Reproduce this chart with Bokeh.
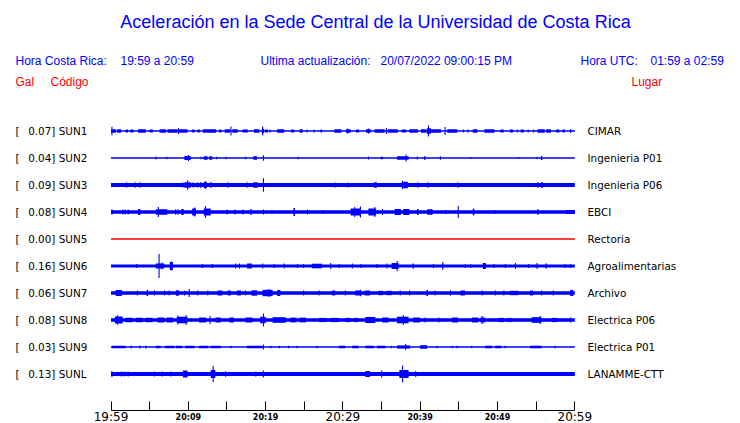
from bokeh.plotting import figure
from bokeh.models import Range1d, FixedTicker, LinearAxis, ColumnDataSource
from bokeh.core.properties import value
from bokeh.embed import file_html
from bokeh.resources import INLINE

# ---------------- data ----------------
title_text = "Aceleración en la Sede Central de la Universidad de Costa Rica"
hora_cr = "19:59 a 20:59"
ultima = "20/07/2022 09:00:15 PM"
hora_utc = "01:59 a 02:59"

codes = ["SUN1", "SUN2", "SUN3", "SUN4", "SUN5", "SUN6", "SUN7", "SUN8", "SUN9", "SUNL"]
gal = [0.07, 0.04, 0.09, 0.08, 0.00, 0.16, 0.06, 0.08, 0.03, 0.13]
places = ["CIMAR", "Ingenieria P01", "Ingenieria P06", "EBCI", "Rectoria",
          "Agroalimentarias", "Archivo", "Electrica P06", "Electrica P01", "LANAMME-CTT"]
trace_colors = ["#0000ff", "#0000ff", "#0000ff", "#0000ff", "#ff0000",
                "#0000ff", "#0000ff", "#0000ff", "#0000ff", "#0000ff"]

# background trace half-amplitude (arbitrary counts) per station
base_amp = [0.6, 0.5, 1.9, 1.7, 0.5, 1.6, 1.8, 1.8, 0.6, 1.9]

# bursts: (start minute, end minute, half-amplitude counts), minutes after 19:59
sun1 = [(0.05, 0.15, 4.3), (0.0, 0.65, 1.7), (0.8, 1.3, 1.7), (1.9, 2.2, 1.5), (2.5, 2.9, 1.5),
        (3.5, 4.5, 1.7), (5.0, 5.4, 1.5), (6.3, 7.1, 1.7), (7.3, 8.6, 1.7), (8.65, 8.75, 3.0),
        (8.8, 9.9, 1.7), (10.5, 10.8, 1.5), (11.2, 11.5, 1.5), (11.9, 13.6, 1.7), (14.0, 14.3, 1.5),
        (14.7, 15.4, 1.7), (15.45, 15.55, 4.5), (15.7, 16.4, 1.7), (17.0, 17.7, 1.5), (18.5, 19.2, 1.7),
        (19.55, 19.65, 4.5), (19.5, 19.8, 2.3), (19.9, 20.3, 1.5), (20.5, 20.6, 1.5), (21.5, 22.4, 1.7),
        (23.3, 23.7, 1.5), (24.4, 24.8, 1.7), (25.3, 25.4, 1.5), (26.2, 26.3, 1.5), (27.1, 27.3, 1.5),
        (28.9, 29.8, 1.7), (30.4, 31.0, 1.7), (30.55, 30.65, 2.5), (31.7, 32.1, 1.5), (33.0, 33.6, 1.7),
        (33.25, 33.35, 2.5), (34.1, 35.4, 1.7), (35.55, 35.65, 3.0), (35.8, 37.1, 1.7), (37.6, 38.2, 1.5),
        (38.6, 39.7, 1.7), (40.1, 40.8, 1.7), (40.85, 41.4, 2.8), (41.0, 41.1, 5.5), (41.4, 42.7, 1.7),
        (43.15, 43.25, 4.0), (43.5, 44.8, 1.7), (45.5, 45.6, 1.5), (46.1, 46.2, 1.5), (46.8, 47.4, 1.7),
        (48.3, 49.6, 1.7), (50.4, 50.8, 1.5), (51.6, 52.0, 1.5), (52.5, 52.6, 1.5), (53.0, 53.4, 1.5),
        (53.9, 54.0, 1.5), (54.6, 54.7, 1.5), (55.2, 56.1, 1.7), (56.3, 56.9, 1.7), (57.6, 58.0, 1.5),
        (58.4, 58.7, 1.5), (59.4, 59.5, 2.0)]
sun2 = [(5.75, 5.85, 1.5), (7.15, 7.25, 1.3), (9.5, 10.3, 2.0), (9.95, 10.05, 3.0), (11.55, 11.65, 1.3),
        (12.0, 12.5, 1.8), (12.7, 13.1, 1.8), (13.6, 13.7, 1.3), (14.8, 14.9, 1.3), (17.35, 17.45, 1.3),
        (18.4, 18.9, 1.8), (19.65, 19.75, 2.8), (24.15, 24.25, 1.2), (33.25, 33.35, 1.5), (34.9, 35.2, 1.3),
        (37.0, 38.5, 1.7), (38.1, 38.2, 3.5), (39.55, 39.65, 1.5), (40.5, 40.7, 1.7), (42.55, 42.65, 1.7),
        (46.45, 46.55, 1.0), (52.65, 52.75, 1.0), (55.05, 55.15, 1.2), (55.6, 55.8, 2.0)]
sun3 = [(1.95, 2.05, 2.7), (3.05, 3.15, 2.7), (3.65, 3.75, 2.7), (9.2, 9.3, 2.5), (9.5, 10.3, 2.7),
        (9.85, 9.95, 4.7), (10.55, 10.65, 2.7), (11.15, 11.25, 2.7), (11.55, 11.65, 3.0), (12.0, 12.4, 3.0),
        (12.15, 12.25, 4.0), (12.85, 12.95, 3.0), (15.05, 15.15, 2.7), (17.55, 17.65, 2.7), (18.4, 19.0, 2.8),
        (19.65, 19.75, 6.7), (28.95, 29.05, 2.5), (30.55, 30.65, 2.5), (34.0, 34.4, 2.7), (37.6, 37.9, 3.0),
        (37.65, 37.75, 4.2), (37.9, 38.4, 3.2), (39.65, 39.75, 2.7), (40.95, 41.05, 2.7),
        (44.85, 44.95, 2.7), (55.15, 55.25, 2.7), (55.6, 55.9, 2.7)]
sun4 = [(0.05, 0.15, 2.7), (1.45, 1.55, 2.5), (1.75, 1.85, 2.5), (2.15, 2.25, 2.5), (3.5, 3.8, 3.0),
        (5.8, 7.3, 2.8), (6.05, 6.15, 5.0), (8.3, 8.4, 2.7), (8.6, 8.7, 2.7), (9.1, 9.4, 3.0),
        (10.5, 11.0, 3.5), (10.75, 10.85, 4.5), (12.0, 12.9, 3.5), (12.15, 12.25, 6.0), (14.95, 15.05, 2.5),
        (15.95, 16.05, 2.5), (17.0, 17.1, 2.5), (18.0, 18.2, 2.7), (19.65, 19.75, 2.5), (20.75, 20.85, 2.0),
        (23.6, 23.8, 4.0), (25.35, 25.45, 2.5), (27.35, 27.45, 2.0), (31.0, 32.3, 3.5), (31.45, 31.55, 5.0),
        (32.2, 32.3, 5.5), (33.3, 34.3, 3.5), (34.05, 34.15, 5.0), (35.05, 35.15, 3.0), (36.7, 37.5, 3.0),
        (37.8, 38.6, 3.0), (39.6, 39.8, 3.0), (40.9, 41.6, 2.8), (43.25, 43.35, 2.0), (44.85, 44.95, 6.0),
        (46.8, 47.0, 3.5), (49.55, 49.65, 2.0), (55.15, 55.25, 3.0), (58.9, 60.0, 2.0)]
sun5 = []
sun6 = [(3.25, 3.35, 2.0), (5.8, 6.9, 2.5), (6.15, 6.25, 12.0), (6.5, 6.6, 3.5), (7.6, 8.0, 4.0),
        (7.75, 7.85, 4.5), (11.75, 11.85, 2.0), (13.05, 13.15, 2.0), (16.05, 16.15, 2.5), (16.55, 16.65, 2.5),
        (17.6, 18.2, 2.5), (19.55, 19.65, 2.5), (21.05, 21.15, 2.0), (22.35, 22.45, 2.5), (24.05, 24.15, 2.0),
        (24.85, 24.95, 2.0), (26.0, 27.3, 2.3), (28.35, 28.45, 3.0), (29.45, 29.55, 2.0), (31.15, 31.25, 2.5),
        (32.25, 32.35, 2.0), (34.35, 34.45, 2.0), (35.65, 35.75, 2.5), (36.3, 37.2, 3.0), (36.95, 37.05, 5.0),
        (39.0, 39.2, 2.5), (41.65, 41.75, 2.0), (42.85, 42.95, 4.0), (45.75, 45.85, 2.0), (46.45, 46.55, 2.0),
        (48.1, 48.5, 3.0), (49.45, 49.55, 2.0), (50.95, 51.05, 2.0), (52.25, 52.35, 3.0), (53.95, 54.05, 2.0),
        (55.05, 55.15, 3.0), (56.2, 56.4, 2.5), (58.65, 58.75, 2.0), (59.35, 59.45, 2.0)]
sun7 = [(0.6, 1.4, 3.0), (3.35, 3.45, 2.5), (4.6, 4.8, 3.0), (5.55, 5.65, 2.5), (6.85, 6.95, 2.5),
        (7.45, 7.55, 2.5), (8.4, 8.8, 2.7), (9.45, 9.55, 2.5), (10.05, 10.15, 4.0), (11.15, 11.25, 2.5),
        (12.45, 12.55, 2.5), (13.8, 14.4, 2.5), (15.1, 15.5, 2.5), (16.3, 16.8, 2.5), (17.35, 17.45, 2.5),
        (18.2, 18.9, 2.7), (19.6, 20.9, 3.2), (20.35, 20.45, 4.0), (21.5, 21.9, 3.0), (24.85, 24.95, 2.5),
        (26.85, 26.95, 2.5), (28.6, 29.0, 2.5), (30.25, 30.35, 2.5), (31.6, 32.4, 2.5), (32.8, 33.5, 2.5),
        (32.2, 32.3, 3.2), (34.6, 35.2, 2.2), (35.6, 36.3, 2.2), (37.35, 37.45, 2.5), (38.55, 38.65, 2.5),
        (40.8, 41.0, 3.0), (41.85, 41.95, 2.5), (43.85, 43.95, 2.7), (45.2, 45.8, 2.5), (47.95, 48.05, 2.5),
        (49.65, 49.75, 2.5), (50.75, 50.85, 2.5), (51.6, 52.7, 2.2), (54.2, 54.6, 2.5), (55.65, 55.75, 2.5),
        (57.15, 57.25, 2.5), (59.4, 59.8, 3.0)]
sun8 = [(0.5, 1.5, 3.5), (0.8, 0.9, 4.7), (1.9, 2.8, 2.2), (3.2, 4.1, 2.2), (4.5, 5.4, 2.3),
        (6.0, 6.9, 2.6), (7.2, 8.0, 2.6), (8.5, 9.9, 3.3), (8.6, 8.7, 4.5), (9.65, 9.75, 5.0),
        (11.4, 12.3, 2.5), (12.75, 12.85, 4.0), (13.5, 14.2, 2.5), (15.3, 15.9, 2.5), (17.4, 18.3, 2.5),
        (19.3, 20.0, 3.2), (19.65, 19.75, 6.5), (20.9, 22.6, 2.8), (23.2, 24.0, 2.4), (24.4, 25.2, 2.4),
        (26.9, 27.9, 2.1), (28.4, 29.5, 2.1), (30.3, 31.0, 2.1), (31.4, 32.0, 2.1), (32.9, 34.2, 3.0),
        (35.1, 35.9, 2.5), (37.0, 38.5, 3.3), (37.75, 37.85, 5.0), (39.1, 40.0, 2.5), (40.55, 40.65, 2.5),
        (42.35, 42.45, 2.5), (44.1, 44.9, 2.5), (46.7, 47.5, 2.5), (47.8, 48.4, 2.5), (47.95, 48.05, 4.0),
        (50.1, 50.8, 2.1), (51.2, 51.8, 2.1), (54.4, 55.7, 2.8), (55.45, 55.55, 4.0), (57.0, 57.8, 2.1),
        (59.35, 59.45, 2.5)]
sun9 = [(0.1, 1.9, 1.3), (2.55, 2.65, 1.5), (3.65, 3.75, 1.5), (4.45, 4.55, 1.5), (5.8, 6.4, 1.3),
        (7.0, 8.2, 1.3), (8.4, 9.2, 1.3), (9.6, 10.8, 1.3), (11.4, 12.6, 1.3), (12.9, 14.2, 1.3),
        (15.45, 15.55, 1.3), (17.6, 19.6, 1.3), (19.65, 19.75, 2.5), (20.6, 20.7, 1.3), (21.7, 21.8, 1.3),
        (22.9, 23.0, 1.3), (24.0, 24.1, 1.3), (26.6, 26.7, 1.3), (29.5, 30.3, 1.3), (31.2, 32.0, 1.3),
        (32.9, 34.0, 1.3), (34.4, 35.5, 1.3), (36.2, 36.3, 1.3), (37.0, 38.7, 1.6), (38.05, 38.15, 3.0),
        (40.0, 40.9, 1.8), (42.1, 42.2, 1.3), (44.1, 44.2, 1.3), (44.7, 44.8, 1.3), (46.6, 46.7, 1.3),
        (48.4, 49.3, 1.3), (49.7, 50.5, 1.3), (50.9, 51.0, 1.3), (54.2, 55.7, 1.3), (57.4, 57.5, 1.3)]
sunl = [(0.05, 0.15, 3.0), (1.25, 1.35, 2.5), (1.65, 1.75, 2.5), (2.15, 2.25, 2.5), (5.55, 5.65, 2.5),
        (6.55, 6.65, 2.5), (7.65, 7.75, 2.5), (9.3, 9.9, 3.5), (12.9, 13.5, 4.0), (13.15, 13.25, 8.0),
        (14.75, 14.85, 2.7), (18.65, 18.75, 2.5), (19.65, 19.75, 3.5), (23.85, 23.95, 2.0), (32.9, 33.5, 3.0),
        (34.95, 35.05, 3.5), (37.3, 38.5, 4.0), (37.65, 37.75, 8.5), (39.35, 39.45, 3.0), (44.65, 44.75, 2.0),
        (45.95, 46.05, 2.0), (49.65, 49.75, 2.0), (51.55, 51.65, 2.0), (53.45, 53.55, 2.0), (55.05, 55.15, 2.0),
        (56.75, 56.85, 2.0), (59.35, 59.45, 2.0)]
bursts = [sun1, sun2, sun3, sun4, sun5, sun6, sun7, sun8, sun9, sunl]

duration_min = 60
tick_minutes = [0, 10, 20, 30, 40, 50, 60]
tick_labels = ["19:59", "20:09", "20:19", "20:29", "20:39", "20:49", "20:59"]
minor_minutes = [5, 15, 25, 35, 45, 55]
big_tick_labels = ["19:59", "20:29", "20:59"]

# ---------------- layout ----------------
W, H = 740, 423
PX_PER_MIN = 7.73
X0 = 110.5          # px of minute 0
ROW_PX = 27.0       # px between traces
ROW0 = 130.5        # px of first trace
AXIS_Y = 409.5      # px of time axis line
AMP_PER_ROW = 27.0  # counts per row spacing
MIN_W = 0.14        # min burst width (minutes)


def px_x(x):
    return (x - X0) / PX_PER_MIN


def px_y(y):
    return (y - ROW0) / ROW_PX


p = figure(width=W, height=H, output_backend="svg", toolbar_location=None,
           x_range=Range1d(px_x(0), px_x(W)), y_range=Range1d(px_y(H), px_y(0)),
           x_axis_type=None, y_axis_type=None, min_border=0)
p.outline_line_color = None
p.background_fill_color = "white"
p.border_fill_color = "white"

# traces
qd = dict(left=[], right=[], top=[], bottom=[], color=[])
for i, (b, bl, col) in enumerate(zip(base_amp, bursts, trace_colors)):
    items = [(0, duration_min, b)] + list(bl)
    for t0, t1, a in items:
        qd["left"].append(t0)
        qd["right"].append(max(t1, t0 + MIN_W))
        qd["top"].append(i - a / AMP_PER_ROW)
        qd["bottom"].append(i + a / AMP_PER_ROW)
        qd["color"].append(col)
p.quad(left="left", right="right", top="top", bottom="bottom", fill_color="color",
       line_color=None, source=ColumnDataSource(qd))
rows = list(range(len(codes)))
p.segment(x0=[0] * len(codes), y0=rows, x1=[duration_min] * len(codes),
          y1=rows, line_color=trace_colors, line_width=1)

# station labels
lab_src = ColumnDataSource(dict(
    y=rows,
    br=["["] * len(codes),
    left=[f"{g:.2f}] {c}" for g, c in zip(gal, codes)],
    place=places))
for xx, col in ((15, "br"), (27.7, "left"), (587, "place")):
    p.text(x=px_x(xx), y="y", text=col, source=lab_src, text_font=value("DejaVu Sans"),
           text_font_size=value("10.4px"), text_baseline="middle", text_align="left", text_color="black")

# title & header
p.text(x=[px_x(375)], y=[px_y(21)], text=[title_text], text_font=value("Liberation Sans"),
       text_font_size=value("18px"), text_baseline="middle", text_align="center", text_color="#0000ff")
hdr_x = [px_x(15), px_x(120), px_x(260), px_x(380), px_x(580), px_x(650)]
hdr_t = ["Hora Costa Rica:", hora_cr, "Ultima actualización:", ultima, "Hora UTC:", hora_utc]
p.text(x=hdr_x, y=[px_y(60)] * len(hdr_x), text=hdr_t, text_font=value("Liberation Sans"),
       text_font_size=value("12px"), text_baseline="middle", text_align="left", text_color="#0000ff")
p.text(x=[px_x(15), px_x(50), px_x(631)], y=[px_y(81)] * 3, text=["Gal", "Código", "Lugar"],
       text_font=value("Liberation Sans"), text_font_size=value("12px"), text_baseline="middle",
       text_align="left", text_color="#ff0000")

# time axis (big labels)
big_ticks = [m for m, lab in zip(tick_minutes, tick_labels) if lab in big_tick_labels]
small_ticks = [m for m, lab in zip(tick_minutes, tick_labels) if lab not in big_tick_labels]
ax = LinearAxis(ticker=FixedTicker(ticks=big_ticks, minor_ticks=small_ticks + minor_minutes),
                bounds=(0, duration_min), fixed_location=px_y(AXIS_Y))
ax.major_label_overrides = {m: lab for m, lab in zip(tick_minutes, tick_labels)}
ax.major_tick_in = 9
ax.major_tick_out = 0
ax.minor_tick_in = 9
ax.minor_tick_out = 0
ax.axis_line_color = "black"
ax.major_tick_line_color = "black"
ax.minor_tick_line_color = "black"
ax.major_label_text_font = "DejaVu Sans"
ax.major_label_text_font_size = "12px"
ax.major_label_text_color = "black"
ax.major_label_standoff = 0
p.add_layout(ax, "below")

# time axis (small labels)
ax2 = LinearAxis(ticker=FixedTicker(ticks=small_ticks, minor_ticks=[]),
                 bounds=(0, duration_min), fixed_location=px_y(AXIS_Y))
ax2.major_label_overrides = {m: lab for m, lab in zip(tick_minutes, tick_labels)}
ax2.axis_line_color = None
ax2.major_tick_line_color = None
ax2.minor_tick_line_color = None
ax2.major_tick_in = 0
ax2.major_tick_out = 0
ax2.major_label_text_font = "DejaVu Sans"
ax2.major_label_text_font_size = "8px"
ax2.major_label_text_font_style = "bold"
ax2.major_label_text_color = "black"
ax2.major_label_standoff = 3
p.add_layout(ax2, "below")

open("out.html", "w").write(file_html(p, INLINE))
